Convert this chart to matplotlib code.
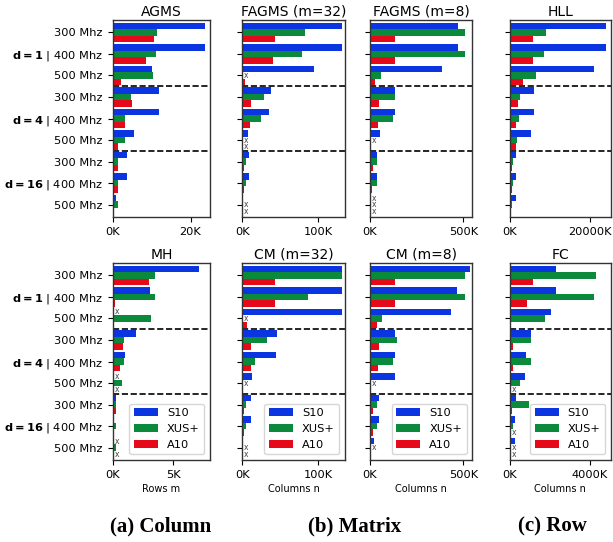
import matplotlib
matplotlib.use('Agg')
import matplotlib.pyplot as plt
import numpy as np
from matplotlib.ticker import MultipleLocator, FuncFormatter

nan = np.nan

# rows: d=1 (300,400,500 Mhz), d=4 (...), d=16 (...)
freq_labels = ['300 Mhz', '400 Mhz', '500 Mhz'] * 3
group_labels = ['d=1', 'd=4', 'd=16']
series_names = ['S10', 'XUS+', 'A10']

# values in thousands, nan = not available (drawn as "x")
agms_s10 = [23.8, 23.8, 10.0, 11.8, 11.8, 5.6, 3.6, 3.6, 0.8]
agms_xus = [11.5, 11.0, 10.3, 4.6, 3.1, 3.1, 1.3, 1.3, 1.3]
agms_a10 = [10.5, 8.5, 2.05, 4.9, 3.1, 1.3, 1.3, 1.3, 0.25]

fagms32_s10 = [132, 132, 95, 37.6, 36, 7, 8.4, 8.4, 1.3]
fagms32_xus = [82.7, 78.8, nan, 28.3, 24.3, nan, 4.4, 4.4, nan]
fagms32_a10 = [43, 40, 3, 11, 9.7, nan, 1.8, 1.8, nan]

fagms8_s10 = [470, 470, 386, 132, 132, 52, 36, 36, nan]
fagms8_xus = [507, 507, 57, 132, 121, nan, 36, 36, nan]
fagms8_a10 = [132, 132, 25, 46, 41, 3, 14, 9, nan]

hll_s10 = [24000, 24000, 21000, 5900, 5900, 5170, 1400, 1400, 1400]
hll_xus = [8900, 8400, 6400, 2400, 2170, 1670, 670, 670, 400]
hll_a10 = [5670, 5670, 3170, 1900, 1400, 1400, 400, 400, 170]

mh_s10 = [7.1, 3.05, nan, 1.9, 0.99, nan, 0.25, 0.08, nan]
mh_xus = [3.46, 3.46, 3.13, 0.9, 0.9, 0.74, 0.25, 0.25, 0.25]
mh_a10 = [2.97, 0.16, 0, 0.82, 0.58, nan, 0.25, 0.08, nan]

cm32_s10 = [132, 132, 132, 45.6, 44, 12.4, 11, 11, 0.9]
cm32_xus = [132, 87, nan, 32.3, 16.4, nan, 4.4, 4.4, nan]
cm32_a10 = [43, 43, 5.8, 11, 11, 0.4, 1.8, 1.8, nan]

cm8_s10 = [534, 464, 432, 132, 132, 132, 46, 46, 20]
cm8_xus = [507, 507, 62.5, 143, 121, nan, 36, 36, nan]
cm8_a10 = [132, 132, 36, 46, 41, 3, 14, 14, 3]

fc_s10 = [2300, 2300, 2050, 1033, 783, 733, 283, 233, 233]
fc_xus = [4300, 4200, 1733, 1033, 1033, 483, 950, 133, nan]
fc_a10 = [1133, 833, 30, 133, 133, nan, 83, nan, nan]

colors = ['#0a35e0', '#0a8a3a', '#e5091a']

panels = [
    ('AGMS', [agms_s10, agms_xus, agms_a10], 25.0, 20, None),
    ('FAGMS (m=32)', [fagms32_s10, fagms32_xus, fagms32_a10], 136, 100, None),
    ('FAGMS (m=8)', [fagms8_s10, fagms8_xus, fagms8_a10], 548, 500, None),
    ('HLL', [hll_s10, hll_xus, hll_a10], 25170, 20000, None),
    ('MH', [mh_s10, mh_xus, mh_a10], 8.02, 5, 'Rows m'),
    ('CM (m=32)', [cm32_s10, cm32_xus, cm32_a10], 136, 100, 'Columns n'),
    ('CM (m=8)', [cm8_s10, cm8_xus, cm8_a10], 548, 500, 'Columns n'),
    ('FC', [fc_s10, fc_xus, fc_a10], 5030, 4000, 'Columns n'),
]

W, H = 613, 542
fig = plt.figure(figsize=(W / 100, H / 100), dpi=100)

lefts = [112.7, 242.3, 370, 510]
rights = [210, 345, 472.3, 610.7]
tops = [20, 263]
ax_h = 197

fs = 8.2
ylabels = []
for i, lab in enumerate(freq_labels):
    if i % 3 == 1:
        ylabels.append(r'$\mathbf{' + group_labels[i // 3] + r'}$ | ' + lab)
    else:
        ylabels.append(lab)

kfmt = FuncFormatter(lambda v, p: '%dK' % round(v))
pos = np.arange(9)
bh = 0.3

for k, (title, series, xmax, step, xlabel) in enumerate(panels):
    row, col = divmod(k, 4)
    l, r = lefts[col], rights[col]
    t = tops[row]
    ax = fig.add_axes([l / W, 1 - (t + ax_h) / H, (r - l) / W, ax_h / H])
    for j, vals in enumerate(series):
        v = np.array(vals, dtype=float)
        yy = pos + (j - 1) * bh
        ax.barh(yy, np.nan_to_num(v), height=bh, color=colors[j],
                label=series_names[j])
        for y, val in zip(yy, v):
            if np.isnan(val):
                ax.annotate('x', (0, y), xytext=(1.2, 0), textcoords='offset points',
                            ha='left', va='center', fontsize=5.5, color='#444444')
    for yl in (2.5, 5.5):
        ax.axhline(yl, color='black', ls='--', lw=1.2)
    ax.set_xlim(0, xmax)
    ax.set_ylim(8.57, -0.57)
    ax.set_yticks(pos)
    if col == 0:
        ax.set_yticklabels(ylabels, fontsize=fs)
    else:
        ax.set_yticklabels([])
    ax.xaxis.set_major_locator(MultipleLocator(step))
    ax.xaxis.set_major_formatter(kfmt)
    ax.tick_params(axis='x', labelsize=fs)
    ax.set_title(title, fontsize=10, pad=3)
    for s in ax.spines.values():
        s.set_color('#333333')
        s.set_linewidth(1.0)
    if xlabel:
        ax.set_xlabel(xlabel, fontsize=7, labelpad=3)
    if row == 1:
        ax.legend(loc='lower right', fontsize=fs, handlelength=2.1)

cap_font = dict(family=['Liberation Serif', 'DejaVu Serif'], weight='bold', fontsize=15)
fig.text(161 / W, 1 - 526 / H, '(a) Column', ha='center', va='center', **cap_font)
fig.text(355 / W, 1 - 526 / H, '(b) Matrix', ha='center', va='center', **cap_font)
fig.text(552 / W, 1 - 526 / H, '(c) Row', ha='center', va='center', **cap_font)

fig.savefig('out.png', dpi=100)
